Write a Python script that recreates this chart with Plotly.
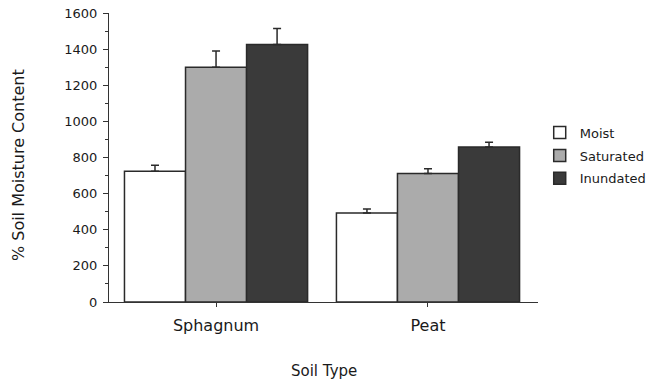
import plotly.graph_objects as go

categories = ["Sphagnum", "Peat"]
series_names = ["Moist", "Saturated", "Inundated"]
moist = [724, 493]
saturated = [1300, 711]
inundated = [1425, 858]
moist_err = [33, 22]
saturated_err = [90, 27]
inundated_err = [89, 26]
y_ticks = [0, 200, 400, 600, 800, 1000, 1200, 1400, 1600]

values = [moist, saturated, inundated]
errors = [moist_err, saturated_err, inundated_err]
colors = ["#ffffff", "#ababab", "#3a3a3a"]
edge = "#2a2a2a"
font = "DejaVu Sans"
txt = "#1a1a1a"

fig = go.Figure()
for name, vals, errs, col in zip(series_names, values, errors, colors):
    fig.add_trace(go.Bar(
        name=name, x=categories, y=vals,
        marker=dict(color=col, line=dict(color=edge, width=1.5)),
        error_y=dict(type="data", symmetric=False, array=errs,
                     arrayminus=[0] * len(errs), color=edge,
                     thickness=1.5, width=4),
        legendgroup=name,
    ))

fig.update_layout(
    width=650, height=385,
    margin=dict(l=109, r=112, t=13, b=83, autoexpand=False),
    paper_bgcolor="white", plot_bgcolor="white",
    barmode="group", bargap=0.136, bargroupgap=0,
    font=dict(family=font, color=txt),
    showlegend=True,
    legend=dict(x=1.004, xanchor="left", y=0.638, yanchor="top",
                font=dict(size=13, family=font, color=txt),
                traceorder="grouped", tracegroupgap=3,
                bgcolor="rgba(0,0,0,0)"),
    xaxis=dict(
        range=[-0.505, 1.519], showline=True, linecolor="#333333", linewidth=1.2,
        ticks="outside", ticklen=4, tickcolor="#333333", automargin=False,
        ticklabelstandoff=5,
        tickfont=dict(size=16, family=font, color=txt),
        showgrid=False, zeroline=False,
    ),
    yaxis=dict(
        range=[0, 1600], tickvals=y_ticks, showline=True, linecolor="#333333",
        linewidth=1.2, ticks="outside", ticklen=5, tickcolor="#333333",
        automargin=False, ticklabelstandoff=3, ticklabeloverflow="allow",
        minor=dict(dtick=100, ticks="outside", ticklen=3, tickcolor="#333333"),
        tickfont=dict(size=13, family=font, color=txt),
        showgrid=False, zeroline=False,
    ),
    annotations=[
        dict(text="Soil Type", xref="paper", yref="paper", x=0.5, y=-0.24,
             xanchor="center", yanchor="middle", showarrow=False,
             font=dict(size=15, family=font, color=txt)),
        dict(text="% Soil Moisture Content", xref="paper", yref="paper",
             x=-0.212, y=0.474, xanchor="center", yanchor="middle",
             textangle=-90, showarrow=False,
             font=dict(size=16, family=font, color=txt)),
    ],
)

# remove the page's default 8px body margin so the figure fills the window
fig.write_html("out.html", config={"displayModeBar": False},
               post_script="document.body.style.margin='0px';")
